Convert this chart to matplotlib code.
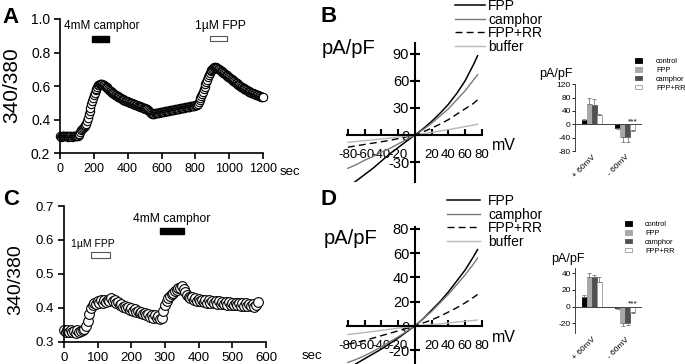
import numpy as np
import matplotlib
matplotlib.use('Agg')
import matplotlib.pyplot as plt
from matplotlib.patches import Rectangle

plt.rcParams['font.family'] = ['Liberation Sans', 'DejaVu Sans']
plt.rcParams['axes.unicode_minus'] = False

# ---------------- data ----------------
# Panel A: 340/380 ratio, sampled every 5 s (0..1200 s)
A_ratio = [0.300, 0.298, 0.301, 0.299, 0.300, 0.302, 0.299, 0.300, 0.301, 0.298, 0.300,
           0.299, 0.301, 0.300, 0.298, 0.300, 0.301, 0.299, 0.300, 0.300, 0.302, 0.301,
           0.305, 0.315, 0.325, 0.335, 0.343, 0.350, 0.356, 0.362, 0.368,
           0.375, 0.390, 0.410, 0.430, 0.450, 0.470, 0.490, 0.510, 0.530, 0.545,
           0.560, 0.575, 0.585, 0.595, 0.603, 0.608, 0.612, 0.614, 0.613, 0.611,
           0.608, 0.605, 0.600, 0.596, 0.592, 0.587, 0.582, 0.578, 0.573, 0.569,
           0.565, 0.561, 0.557, 0.553, 0.549, 0.546, 0.542, 0.539, 0.536, 0.533,
           0.530, 0.527, 0.524, 0.521, 0.519, 0.516, 0.513, 0.511, 0.509, 0.506,
           0.504, 0.502, 0.500, 0.498, 0.496, 0.494, 0.492, 0.490, 0.488, 0.486,
           0.484, 0.482, 0.480, 0.478, 0.476, 0.474, 0.472, 0.470, 0.468, 0.466,
           0.464, 0.462, 0.460, 0.457, 0.452, 0.446, 0.440, 0.436, 0.434, 0.433,
           0.434, 0.436, 0.438, 0.437, 0.439, 0.440,
           0.441, 0.443, 0.442, 0.445, 0.444, 0.447, 0.446, 0.449, 0.448, 0.451,
           0.451, 0.453, 0.452, 0.455, 0.454, 0.457, 0.456, 0.459, 0.458, 0.461,
           0.460, 0.463, 0.462, 0.465, 0.464, 0.467, 0.466, 0.469, 0.468, 0.471,
           0.470, 0.473, 0.472, 0.475, 0.474, 0.477, 0.476, 0.479, 0.478, 0.481,
           0.480, 0.483, 0.482, 0.485, 0.486, 0.489,
           0.495, 0.505, 0.515, 0.528, 0.540, 0.553, 0.567, 0.581, 0.595, 0.609,
           0.623, 0.637, 0.651, 0.664, 0.676, 0.687, 0.696, 0.703, 0.708, 0.711,
           0.712, 0.711,
           0.709, 0.706, 0.703, 0.699, 0.695, 0.691, 0.687, 0.683, 0.679, 0.675,
           0.671, 0.667, 0.663, 0.659, 0.655, 0.651, 0.647, 0.643, 0.639, 0.635,
           0.631, 0.627, 0.623, 0.619, 0.615, 0.611, 0.607, 0.603, 0.600, 0.597,
           0.594, 0.591, 0.588, 0.585, 0.582, 0.579, 0.576, 0.573, 0.570, 0.567,
           0.564, 0.561, 0.558, 0.556, 0.554, 0.552, 0.550, 0.548, 0.546, 0.544,
           0.542, 0.540, 0.538, 0.536, 0.534, 0.532]
A_time = np.arange(len(A_ratio)) * 5
A_sem = 0.022
A_xticks = [0, 200, 400, 600, 800, 1000, 1200]
A_yticks = [0.2, 0.4, 0.6, 0.8, 1.0]
A_camphor_period = (190, 290)
A_fpp_period = (888, 990)

# Panel C: 340/380 ratio, sampled every 5 s (0..575 s)
C_ratio = [0.335, 0.330, 0.336, 0.329, 0.334, 0.328, 0.333, 0.327, 0.335, 0.329, 0.332, 0.334,
           0.338, 0.348, 0.363, 0.381, 0.399, 0.408, 0.416, 0.412,
           0.421, 0.415, 0.423, 0.416, 0.424, 0.417, 0.425, 0.420, 0.428, 0.421,
           0.424, 0.415, 0.418, 0.409, 0.412, 0.404, 0.407, 0.400, 0.403, 0.395,
           0.399, 0.391, 0.396, 0.388, 0.392, 0.384, 0.389, 0.381, 0.386, 0.378,
           0.383, 0.375, 0.380, 0.372, 0.378, 0.370, 0.376, 0.368, 0.371,
           0.390, 0.408, 0.420, 0.430, 0.434, 0.441, 0.444, 0.450, 0.452, 0.458, 0.460, 0.464,
           0.457, 0.446, 0.438, 0.433, 0.428, 0.431, 0.424, 0.429, 0.422, 0.427,
           0.420, 0.425, 0.418, 0.424, 0.416, 0.423, 0.415, 0.422, 0.414, 0.421,
           0.413, 0.420, 0.412, 0.419, 0.411, 0.418, 0.410, 0.417, 0.409, 0.416,
           0.409, 0.415, 0.408, 0.415, 0.407, 0.414, 0.407, 0.414, 0.406, 0.413,
           0.406, 0.412, 0.404, 0.410, 0.418]
C_time = np.arange(len(C_ratio)) * 5
C_xticks = [0, 100, 200, 300, 400, 500, 600]
C_yticks = [0.3, 0.4, 0.5, 0.6, 0.7]
C_fpp_period = (79, 138)
C_camphor_period = (285, 356)

# Panels B / D: I-V curves
IV_mV = [-80, -70, -60, -50, -40, -30, -20, -10, 0, 10, 20, 30, 40, 50, 60, 70, 75]
B_FPP     = [-58, -51, -44, -37, -29, -21, -14, -7, 0, 7, 15, 24, 34, 46, 60, 78, 88]
B_camphor = [-37, -33, -28, -24, -19, -15, -10, -5, 0, 6, 13, 21, 29, 39, 49, 61, 67]
B_FPP_RR  = [-13.5, -12, -10.5, -9, -7.5, -6, -4, -2, 0, 3.5, 7.5, 12, 17, 23, 29, 35, 39]
B_buffer  = [-8, -7.2, -6.3, -5.4, -4.4, -3.4, -2.3, -1.2, 0, 1.4, 2.9, 4.4, 6, 7.6, 9.3, 11, 12]
D_FPP     = [-35, -31, -27, -23, -19, -14.5, -10, -5, 0, 6, 13, 20, 28, 37, 46, 57, 63]
D_camphor = [-30, -27.5, -24.5, -21, -17, -13, -9, -4.5, 0, 6, 12, 19, 26, 34, 42, 51, 56]
D_FPP_RR  = [-15, -13.5, -12, -10, -8, -6, -4, -2, 0, 2.5, 5, 8, 11.5, 15, 19, 23.5, 26]
D_buffer  = [-7, -6.2, -5.4, -4.5, -3.6, -2.7, -1.8, -0.9, 0, 0.6, 1.2, 1.8, 2.5, 3.2, 3.9, 4.6, 5]
IV_labels = ['FPP', 'camphor', 'FPP+RR', 'buffer']
IV_xticks = [-80, -60, -40, -20, 20, 40, 60, 80]
B_yticks = [-30, 0, 30, 60, 90]
D_yticks = [-20, 0, 20, 40, 60, 80]

# Inset bar charts
bar_groups = ['+ 60mV', '- 60mV']
bar_labels = ['control', 'FPP', 'camphor', 'FPP+RR']
B_bar_pos = [13, 61, 58, 28]
B_err_pos = [2, 17, 17, 4]
B_bar_neg = [-12, -39, -38, -17]
B_err_neg = [2, 13, 15, 3]
B_bar_yticks = [-80, -40, 0, 40, 80, 120]
D_bar_pos = [12, 36, 35, 30]
D_err_pos = [1.5, 4, 2.5, 5]
D_bar_neg = [-2, -20, -20, -7]
D_err_neg = [0.5, 3.5, 1.5, 1]
D_bar_yticks = [-20, 0, 20, 40]

# ---------------- figure ----------------
W, H = 685, 364
fig = plt.figure(figsize=(W / 100, H / 100), dpi=100)


def rect(x0, y0, x1, y1):
    return [x0 / W, 1 - y1 / H, (x1 - x0) / W, (y1 - y0) / H]


def fx(x):
    return x / W


def fy(y):
    return 1 - y / H


def time_panel(ax, t, r, xlim, ylim, xticks, yticks, xfs, yfs, ms, sem=None):
    if sem is not None:
        ax.errorbar(t, r, yerr=sem, fmt='none', ecolor='#a0a0a0', elinewidth=1.0,
                    zorder=1, clip_on=False)
    ax.plot(t, r, 'o', mfc='white', mec='black', ms=ms, mew=0.8, clip_on=False, zorder=2)
    ax.set_xlim(*xlim)
    ax.set_ylim(*ylim)
    ax.set_xticks(xticks)
    ax.set_yticks(yticks)
    ax.yaxis.set_major_formatter('{x:.1f}')
    for s in ['top', 'right']:
        ax.spines[s].set_visible(False)
    for s in ['left', 'bottom']:
        ax.spines[s].set_linewidth(1.2)
    ax.tick_params(direction='out', length=4, width=1.2, pad=3)
    ax.tick_params(axis='x', labelsize=xfs)
    ax.tick_params(axis='y', labelsize=yfs)


# Panel A
axA = fig.add_axes(rect(60, 19, 263, 153))
time_panel(axA, A_time, A_ratio, (0, 1200), (0.2, 1.0), A_xticks, A_yticks, 9, 10, 6, A_sem)
axA.add_patch(Rectangle((A_camphor_period[0], 0.862), A_camphor_period[1] - A_camphor_period[0],
                        0.034, facecolor='black', edgecolor='black', clip_on=False))
axA.add_patch(Rectangle((A_fpp_period[0], 0.866), A_fpp_period[1] - A_fpp_period[0],
                        0.034, facecolor='white', edgecolor='#555555', lw=0.8, clip_on=False))
axA.text(sum(A_camphor_period) / 2 + 8, 0.958, '4mM camphor', ha='center', va='center', fontsize=8.5)
axA.text(sum(A_fpp_period) / 2 + 8, 0.958, '1\u00b5M FPP', ha='center', va='center', fontsize=8.7)
fig.text(fx(280), fy(172), 'sec', ha='left', va='center', fontsize=9.5)
fig.text(fx(12), fy(85), '340/380', rotation=90, ha='center', va='center', fontsize=15)

# Panel C
axC = fig.add_axes(rect(64, 206, 266, 342))
time_panel(axC, C_time, C_ratio, (0, 600), (0.3, 0.7), C_xticks, C_yticks, 9.5, 9.5, 7)
axC.add_patch(Rectangle((C_fpp_period[0], 0.546), C_fpp_period[1] - C_fpp_period[0],
                        0.018, facecolor='white', edgecolor='#555555', lw=0.8, clip_on=False))
axC.add_patch(Rectangle((C_camphor_period[0], 0.617), C_camphor_period[1] - C_camphor_period[0],
                        0.018, facecolor='black', edgecolor='black', clip_on=False))
axC.text(85, 0.588, '1\u00b5M FPP', ha='center', va='center', fontsize=7.5)
axC.text(320, 0.661, '4mM camphor', ha='center', va='center', fontsize=8.7)
fig.text(fx(302), fy(356), 'sec', ha='left', va='center', fontsize=9.5)
fig.text(fx(16), fy(280), '340/380', rotation=90, ha='center', va='center', fontsize=14)


# I-V panels
def iv_panel(ax, curves, ylim, yticks, legend_xy, handlelen, textpad):
    styles = [dict(color='black', lw=1.1),
              dict(color='#7a7a7a', lw=1.0),
              dict(color='black', lw=1.0, ls=(0, (5, 3))),
              dict(color='#b8b8b8', lw=1.0)]
    handles = []
    for c, st in zip(curves, styles):
        h, = ax.plot(IV_mV, c, **st)
        handles.append(h)
    ax.set_xlim(-81, 80.3)
    ax.set_ylim(*ylim)
    ax.spines['left'].set_position(('data', 0))
    ax.spines['bottom'].set_position(('data', 0))
    for s in ['top', 'right']:
        ax.spines[s].set_visible(False)
    for s in ['left', 'bottom']:
        ax.spines[s].set_linewidth(1.5)
    ax.set_xticks(IV_xticks)
    ax.set_yticks(yticks)
    ax.tick_params(axis='x', direction='in', length=4, width=1.5, labelsize=9.5, pad=10)
    ax.tick_params(axis='y', direction='inout', length=7, width=1.5, labelsize=10.5, pad=0.5)
    ax.patch.set_alpha(0)
    ax.legend(handles, IV_labels, loc='upper left', bbox_to_anchor=legend_xy,
              bbox_transform=fig.transFigure, frameon=False, fontsize=10,
              handlelength=handlelen, handletextpad=textpad, labelspacing=-0.03,
              borderpad=0, borderaxespad=0)


axB = fig.add_axes(rect(347, 43, 482, 182))
iv_panel(axB, [B_FPP, B_camphor, B_FPP_RR, B_buffer], (-52.2, 102.2), B_yticks,
         (fx(455), fy(-1)), 2.15, 0.22)
axD = fig.add_axes(rect(347, 227, 482, 364))
iv_panel(axD, [D_FPP, D_camphor, D_FPP_RR, D_buffer], (-31.3, 81.6), D_yticks,
         (fx(447), fy(194)), 2.4, 0.55)
for yy in (146, 337):
    fig.text(fx(492), fy(yy), 'mV', ha='left', va='center', fontsize=11.5)
fig.text(fx(349), fy(49), 'pA/pF', ha='center', va='center', fontsize=14.5)
fig.text(fx(351), fy(239), 'pA/pF', ha='center', va='center', fontsize=14.5)


# Inset bar charts
def bar_inset(ax, pos, epos, neg, eneg, ylim, yticks, legend_xy, textpad, label_xy):
    colors = ['black', '#a8a8a8', '#505050', 'white']
    edges = ['black', '#a0a0a0', '#505050', '#999999']
    width = 0.15
    offs = [-0.225, -0.075, 0.075, 0.225]
    x = np.arange(len(bar_groups))
    handles = []
    for i in range(4):
        b = ax.bar(x + offs[i], [pos[i], neg[i]], width, color=colors[i], edgecolor=edges[i],
                   lw=0.6, yerr=[[0, eneg[i]], [epos[i], 0]],
                   error_kw=dict(ecolor='#777777', elinewidth=0.6, capsize=1.2, capthick=0.6),
                   label=bar_labels[i])
        handles.append(b)
    ax.axhline(0, color='#444444', lw=0.7)
    ax.set_xlim(-0.5, 1.5)
    ax.set_ylim(*ylim)
    ax.set_yticks(yticks)
    ax.set_xticks(x)
    ax.set_xticklabels(bar_groups, rotation=45, ha='right', rotation_mode='anchor', fontsize=6)
    for s in ['top', 'right', 'bottom']:
        ax.spines[s].set_visible(False)
    ax.spines['left'].set_linewidth(0.7)
    ax.spines['left'].set_color('#444444')
    ax.tick_params(axis='x', length=0, pad=2)
    ax.tick_params(axis='y', length=2, width=0.6, labelsize=6, pad=1)
    ax.patch.set_alpha(0)
    ax.annotate('***', xy=(1 + offs[3], 0), xytext=(0, 1), textcoords='offset points',
                ha='center', va='baseline', fontsize=6)
    ax.legend(handles, bar_labels, loc='upper left', bbox_to_anchor=legend_xy,
              bbox_transform=fig.transFigure, frameon=False, fontsize=5.3,
              handlelength=0.95, handleheight=0.6, handletextpad=textpad,
              labelspacing=0.25, borderpad=0, borderaxespad=0)
    fig.text(label_xy[0], label_xy[1], 'pA/pF', ha='center', va='center', fontsize=9)


axBi = fig.add_axes(rect(575, 84.3, 642, 151))
bar_inset(axBi, B_bar_pos, B_err_pos, B_bar_neg, B_err_neg, (-80, 120), B_bar_yticks,
          (fx(635), fy(58)), 1.9, (fx(556), fy(74)))
axDi = fig.add_axes(rect(575, 268.3, 642, 333.3))
bar_inset(axDi, D_bar_pos, D_err_pos, D_bar_neg, D_err_neg, (-32, 46), D_bar_yticks,
          (fx(625), fy(221)), 1.77, (fx(568), fy(259)))

# Panel letters
for letter, (x, y) in zip('ABCD', [(2, 23), (320, 22), (3, 205), (320, 205)]):
    fig.text(fx(x), fy(y), letter, ha='left', va='baseline', fontsize=16, fontweight='bold')

fig.savefig('out.png', dpi=100)
